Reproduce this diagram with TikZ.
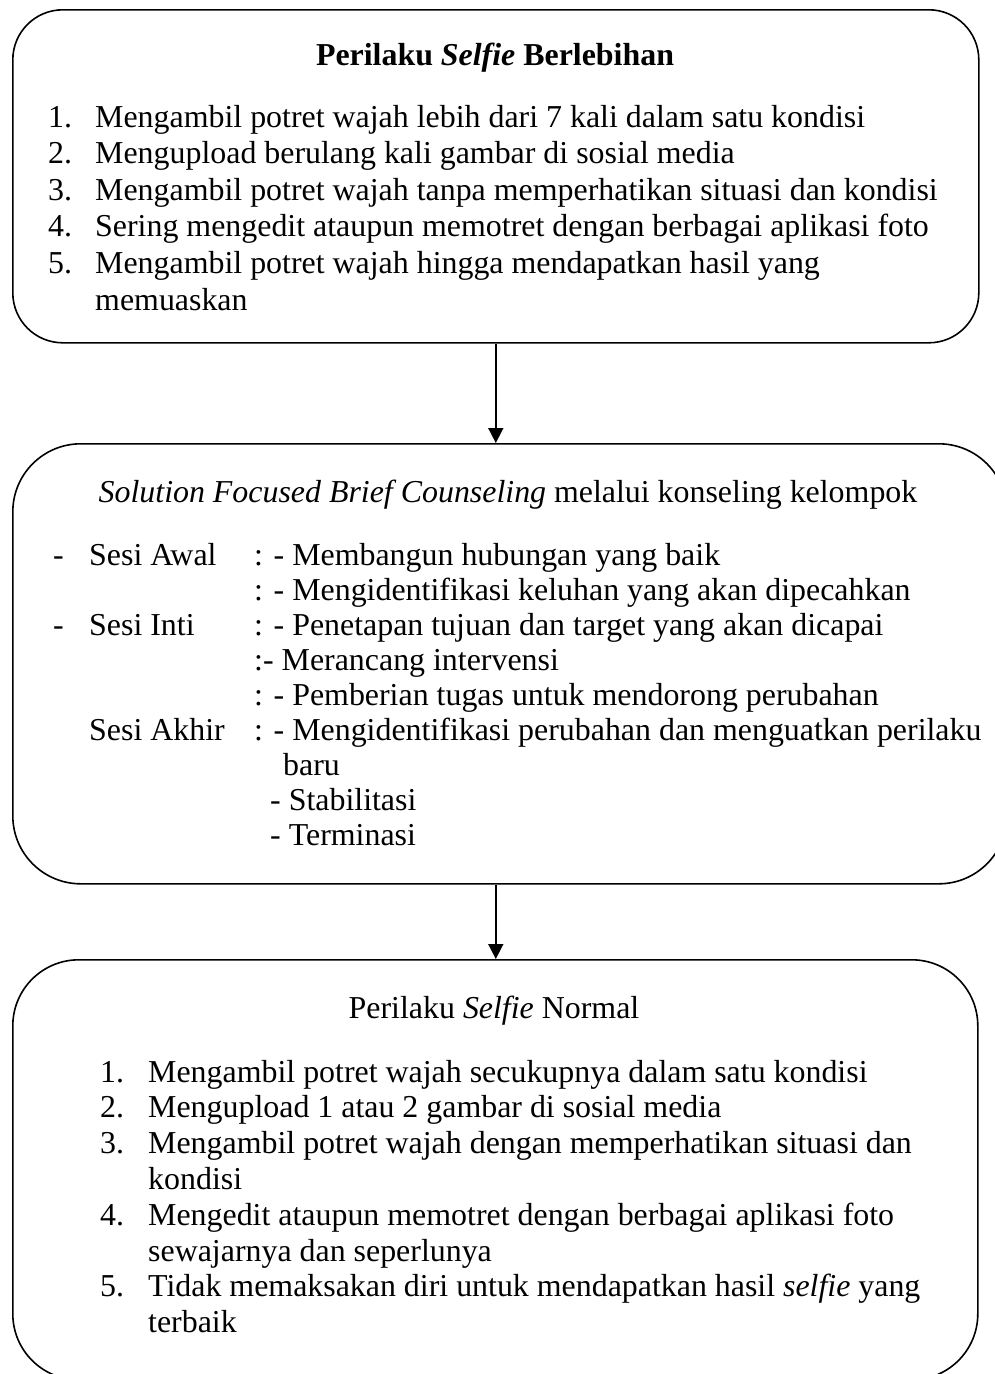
\documentclass[tikz,border=0pt]{standalone}
\usepackage{fontspec}
\setmainfont{Liberation Serif}
\usetikzlibrary{arrows.meta}
\newcommand\fs{\fontsize{31.9}{36}\selectfont}
\begin{document}
\begin{tikzpicture}[x=1pt,y=-1pt,
  box/.style={draw, line width=1.6pt, rounded corners=#1, inner sep=0pt, anchor=north west},
  txt/.style={inner sep=0pt, anchor=base west, font=\fs},
  ttl/.style={inner sep=0pt, anchor=base, font=\fs},
  arr/.style={-{Triangle[length=15pt,width=15pt]}, line width=1.6pt}]
\clip (0,0) rectangle (995,1374);
\fill[white] (0,0) rectangle (995,1374);
% boxes
\node[box=50pt, minimum width=966pt, minimum height=333pt] (b1) at (12,9) {};
\node[box=68pt, minimum width=994pt, minimum height=440pt] (b2) at (12,443) {};
\node[box=66pt, minimum width=965pt, minimum height=420pt] (b3) at (12,959) {};
% connectors
\draw[arr] (b1.south) -- (b1.south |- b2.north);
\draw[arr] (b1.south |- b2.south) -- (b1.south |- b3.north);
% box 1
\node[ttl, font=\fs\bfseries] (h1) at (495,65) {Perilaku \textit{Selfie} Berlebihan};
\node[txt] (n11) at (48,127) {1.};
\node[txt] (t11) at (95,127) {Mengambil potret wajah lebih dari 7 kali dalam satu kondisi};
\node[txt] (n12) at (48,163.6) {2.};
\node[txt] (t12) at (95,163.6) {Mengupload berulang kali gambar di sosial media};
\node[txt] (n13) at (48,200.2) {3.};
\node[txt] (t13) at (95,200.2) {Mengambil potret wajah tanpa memperhatikan situasi dan kondisi};
\node[txt] (n14) at (48,236.8) {4.};
\node[txt] (t14) at (95,236.8) {Sering mengedit ataupun memotret dengan berbagai aplikasi foto};
\node[txt] (n15) at (48,273.4) {5.};
\node[txt] (t15) at (95,273.4) {Mengambil potret wajah hingga mendapatkan hasil yang};
\node[txt] (t16) at (95,310) {memuaskan};
% box 2
\node[ttl] (h2) at (508,502) {\textit{Solution Focused Brief Counseling} melalui konseling kelompok};
\node[txt] (d21) at (53,565) {-};
\node[txt] (s21) at (89,565) {Sesi Awal};
\node[txt] (r21) at (254,565) {: - Membangun hubungan yang baik};
\node[txt] (r22) at (254,600) {: - Mengidentifikasi keluhan yang akan dipecahkan};
\node[txt] (d23) at (53,635) {-};
\node[txt] (s23) at (89,635) {Sesi Inti};
\node[txt] (r23) at (254,635) {: - Penetapan tujuan dan target yang akan dicapai};
\node[txt] (r24) at (254,670) {:- Merancang intervensi};
\node[txt] (r25) at (254,705) {: - Pemberian tugas untuk mendorong perubahan};
\node[txt] (s26) at (89,740) {Sesi Akhir};
\node[txt] (r26) at (254,740) {: - Mengidentifikasi perubahan dan menguatkan perilaku};
\node[txt] (r27) at (283,775) {baru};
\node[txt] (r28) at (270,810) {- Stabilitasi};
\node[txt] (r29) at (270,845) {- Terminasi};
% box 3
\node[ttl] (h3) at (494,1018) {Perilaku \textit{Selfie} Normal};
\node[txt] (n31) at (100,1082) {1.};
\node[txt] (t31) at (148,1082) {Mengambil potret wajah secukupnya dalam satu kondisi};
\node[txt] (n32) at (100,1117.8) {2.};
\node[txt] (t32) at (148,1117.8) {Mengupload 1 atau 2 gambar di sosial media};
\node[txt] (n33) at (100,1153.6) {3.};
\node[txt] (t33) at (148,1153.6) {Mengambil potret wajah dengan memperhatikan situasi dan};
\node[txt] (t34) at (148,1189.4) {kondisi};
\node[txt] (n35) at (100,1225.2) {4.};
\node[txt] (t35) at (148,1225.2) {Mengedit ataupun memotret dengan berbagai aplikasi foto};
\node[txt] (t36) at (148,1261) {sewajarnya dan seperlunya};
\node[txt] (n37) at (100,1296.8) {5.};
\node[txt] (t37) at (148,1296.8) {Tidak memaksakan diri untuk mendapatkan hasil \textit{selfie} yang};
\node[txt] (t38) at (148,1332.6) {terbaik};
\end{tikzpicture}
\end{document}
